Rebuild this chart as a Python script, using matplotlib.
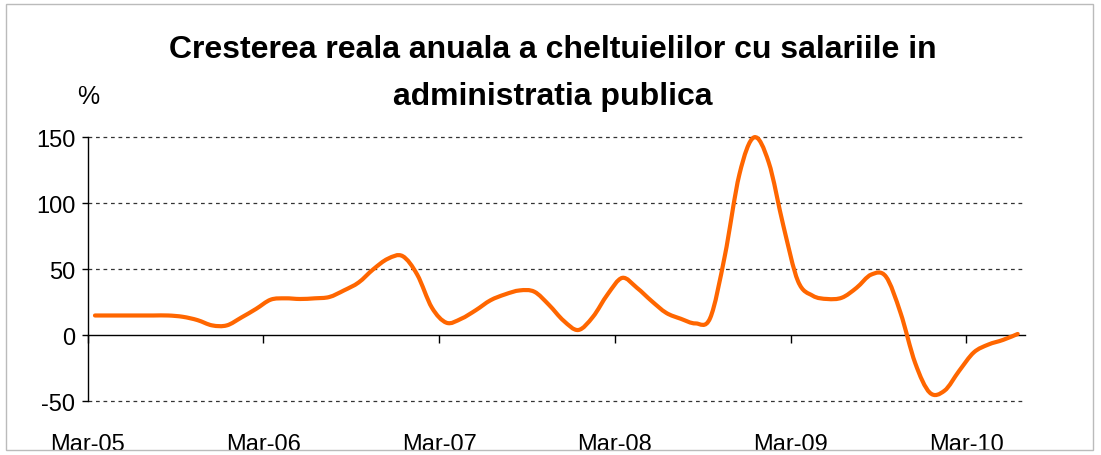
import numpy as np
import matplotlib
matplotlib.use("Agg")
import matplotlib.pyplot as plt
from matplotlib.path import Path
from matplotlib.patches import PathPatch, Rectangle

plt.rcParams['font.family'] = ['Liberation Sans', 'DejaVu Sans']
plt.rcParams['axes.unicode_minus'] = False

# monthly real annual growth, Mar-05 .. Jun-10 (%)
values = [15, 15, 15, 15, 15, 15, 14, 11.5, 7.5, 7.5,
          13.5, 20, 27, 28, 27.5, 28, 29, 34, 40, 50,
          58, 60, 46, 21, 9.5, 12.5, 19, 26.5, 31, 34,
          33, 23, 11, 4, 14, 31, 43.5, 36, 26, 17,
          12.5, 9, 13, 60, 122, 150, 131, 83, 41, 30,
          27.5, 28.5, 36, 46, 44.5, 17, -21, -43.5, -42, -27,
          -13, -7, -3.5, 1]
tick_labels = ['Mar-05', 'Mar-06', 'Mar-07', 'Mar-08', 'Mar-09', 'Mar-10']
y_ticks = [-50, 0, 50, 100, 150]

x = np.arange(len(values)) + 0.5
y = np.array(values, dtype=float)

fig = plt.figure(figsize=(11.01, 4.56), dpi=100)
ax = fig.add_axes([0.0796, 0.1178, 0.8514, 0.5789])

# smoothed line (bezier through the points, like the spreadsheet "smoothed line")
pts = np.column_stack([x, y])
ext = np.vstack([pts[0], pts, pts[-1]])
verts = [tuple(pts[0])]
codes = [Path.MOVETO]
for k in range(1, len(ext) - 2):
    p0, p1, p2, p3 = ext[k - 1], ext[k], ext[k + 1], ext[k + 2]
    c1 = p1 + (p2 - p0) / 6.0
    c2 = p2 - (p3 - p1) / 6.0
    verts += [tuple(c1), tuple(c2), tuple(p2)]
    codes += [Path.CURVE4] * 3
ax.add_patch(PathPatch(Path(verts, codes), fill=False, edgecolor='#FF6600',
                       lw=3.0, capstyle='round', joinstyle='round',
                       clip_on=False, zorder=3))

ax.set_xlim(0, 64)
ax.set_ylim(-50, 150)

for g in [-50, 50, 100, 150]:
    ax.axhline(g, color='#333333', lw=0.9, ls=(0, (3, 3)), zorder=1, clip_on=False)

ax.spines['top'].set_visible(False)
ax.spines['right'].set_visible(False)
ax.spines['bottom'].set_position(('data', 0))
ax.spines['bottom'].set_linewidth(1.0)
ax.spines['left'].set_linewidth(1.0)

ax.set_xticks(np.arange(0, 61, 12))
ax.set_xticklabels(tick_labels)
ax.tick_params(axis='x', direction='out', length=6, width=1, pad=64,
               labelsize=17)
ax.set_yticks(y_ticks)
ax.tick_params(axis='y', direction='out', length=4, width=1, pad=5,
               labelsize=17)

fig.text(0.502, 0.839, 'Cresterea reala anuala a cheltuielilor cu salariile in\nadministratia publica',
         ha='center', va='center', fontsize=23, fontweight='bold', linespacing=1.76)
fig.text(0.08, 0.787, '%', ha='center', va='center', fontsize=18)

fig.patches.append(Rectangle((0.005, 0.011), 0.988, 0.978, transform=fig.transFigure,
                             fill=False, edgecolor='#bbbbbb', lw=1.0))

fig.savefig('out.png', dpi=100)
